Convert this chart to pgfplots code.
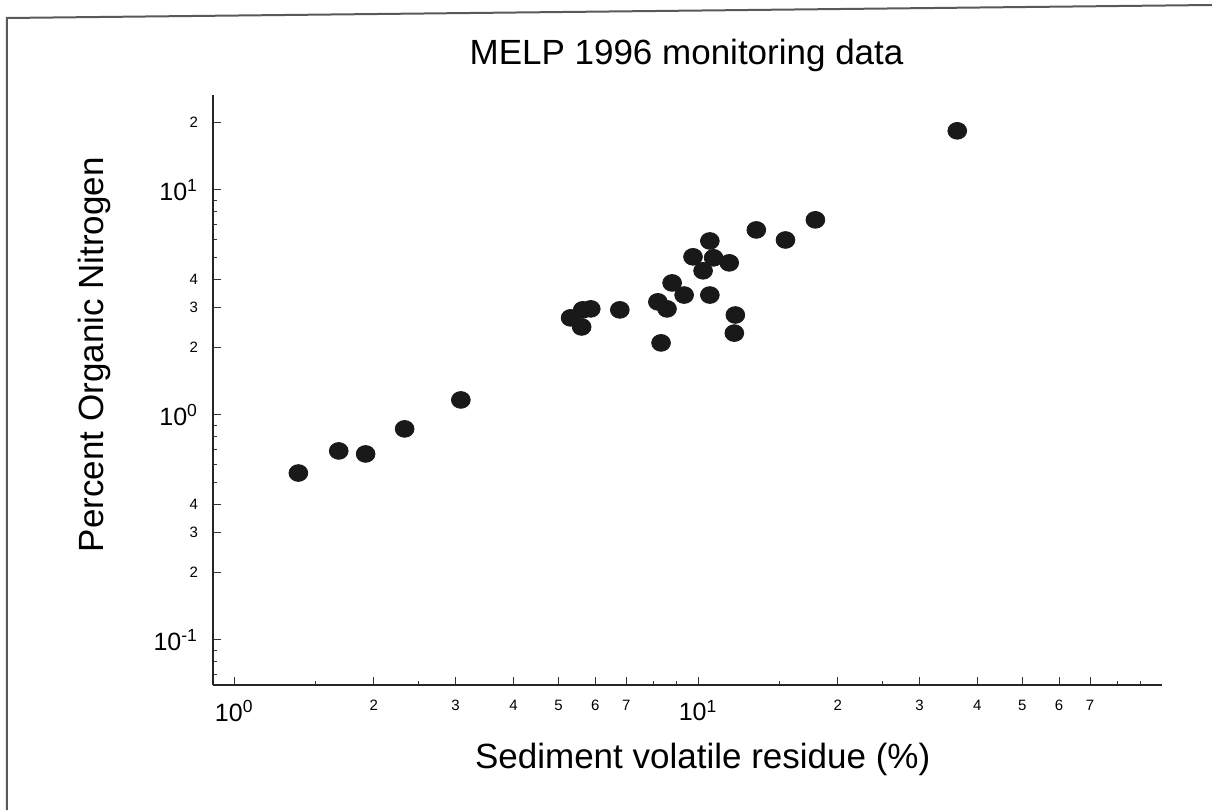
\documentclass[border=0pt]{standalone}
\usepackage{pgfplots}
\pgfplotsset{compat=1.18}
\usepackage{fontspec}
\setmainfont{Liberation Sans}
\newcommand\bigt{\fontsize{12.5}{14}\selectfont}
\newcommand\smt{\fontsize{7.5}{9}\selectfont}
\newcommand\lab{\fontsize{17.5}{20}\selectfont}
\begin{document}
\begin{tikzpicture}
\begin{axis}[
  at={(0,0)}, anchor=south west, scale only axis,
  width=474.5pt, height=295pt,
  xmode=log, ymode=log,
  xmin=0.9, xmax=100, ymin=0.0631, ymax=26.4,
  axis lines*=left,
  axis line style={line width=1pt, black!85},
  tick align=inside,
  major tick length=4pt, minor tick length=2pt,
  every tick/.style={black!80, line width=0.5pt},
  xtick={1,2,3,4,5,6,7,10,20,30,40,50,60,70},
  xticklabels={{\bigt 10\textsuperscript{0}},{\smt 2},{\smt 3},{\smt 4},{\smt 5},{\smt 6},{\smt 7},{\bigt 10\textsuperscript{1}},{\smt 2},{\smt 3},{\smt 4},{\smt 5},{\smt 6},{\smt 7}},
  minor xtick={1.5,2.5,8,9,15,25,80,90},
  ytick={0.1,0.2,0.3,0.4,1,2,3,4,10,20},
  yticklabels={{\bigt 10\textsuperscript{-1}},{\smt 2},{\smt 3},{\smt 4},{\bigt 10\textsuperscript{0}},{\smt 2},{\smt 3},{\smt 4},{\bigt 10\textsuperscript{1}},{\smt 2}},
  minor ytick={0.07,0.08,0.09,0.5,0.6,0.7,0.8,0.9,5,6,7,8,9},
  xticklabel style={anchor=north, yshift=-4pt},
  yticklabel style={anchor=east, xshift=-4pt},
  title={\lab MELP 1996 monitoring data},
  title style={at={(axis description cs:0.499,1.046)}, anchor=center},
  xlabel={\lab Sediment volatile residue (\%)},
  xlabel style={at={(axis description cs:0.516,-0.127)}, anchor=center},
  ylabel={\lab Percent Organic Nitrogen},
  ylabel style={at={(axis description cs:-0.125,0.56)}, anchor=center},
  clip=false,
]
\addplot[only marks, mark=*, mark size=4.2pt, black!90, mark options={xscale=1.12, fill=black!90}] coordinates {
(1.375,0.552)
(1.68,0.692)
(1.92,0.671)
(2.33,0.867)
(3.08,1.166)
(5.31,2.70)
(5.64,2.93)
(5.87,2.96)
(5.61,2.46)
(6.78,2.93)
(8.19,3.18)
(8.57,2.96)
(8.32,2.09)
(8.79,3.86)
(9.33,3.41)
(9.75,5.04)
(10.25,4.37)
(10.6,5.93)
(10.8,4.99)
(10.6,3.41)
(11.67,4.74)
(12.03,2.78)
(11.97,2.31)
(13.35,6.64)
(15.43,5.99)
(17.9,7.36)
(36.2,18.3)
};
\end{axis}
\draw[black!65, line width=1pt] (-103pt,-62.5pt) -- (-103pt,333.5pt) -- (499.5pt,340pt);
\pgfresetboundingbox
\path[use as bounding box] (-106.5pt,-62.5pt) rectangle (499.5pt,342.5pt);
\end{tikzpicture}
\end{document}
